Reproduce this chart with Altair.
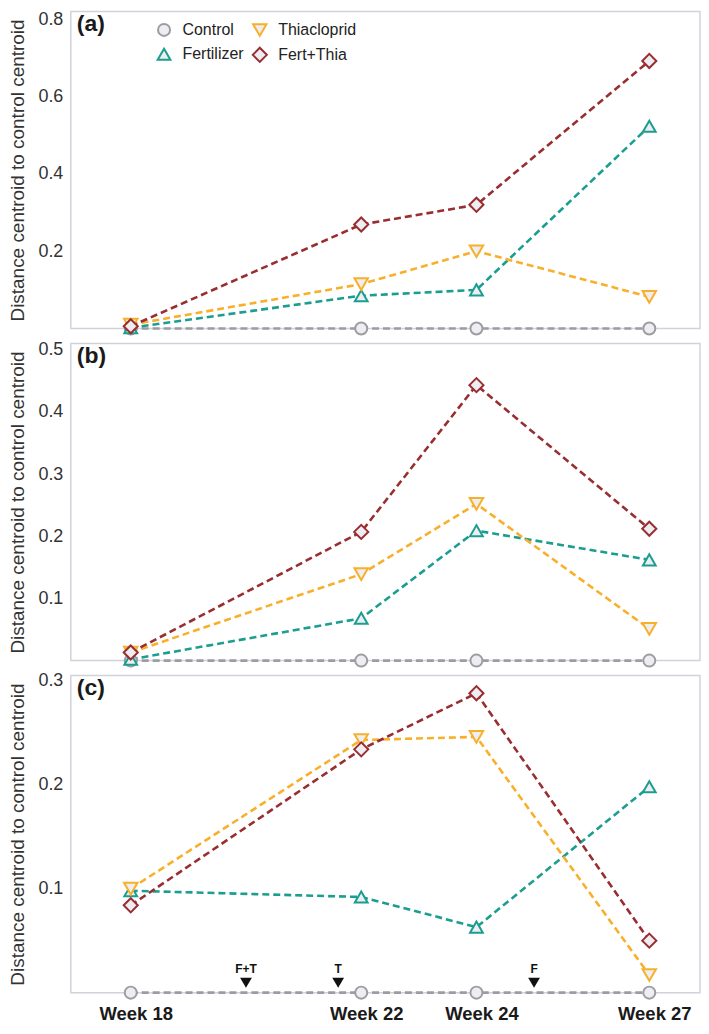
import altair as alt
import pandas as pd

# ---------------- data ----------------
weeks = [18, 22, 24, 27]
week_ticks = [18, 22, 24, 27]
groups = ["Control", "Fertilizer", "Thiacloprid", "Fert+Thia"]
legend_order = ["Control", "Fertilizer", "Thiacloprid", "Fert+Thia"]
colors = {"Control": "#9c9ca4", "Fertilizer": "#1b9e90",
          "Thiacloprid": "#f8b02b", "Fert+Thia": "#992e30"}
shapes = {"Control": "circle", "Fertilizer": "triangle-up",
          "Thiacloprid": "triangle-down", "Fert+Thia": "diamond"}
sizes = {"Control": 145, "Fertilizer": 200, "Thiacloprid": 215, "Fert+Thia": 240}

a_control = [0.0, 0.0, 0.0, 0.0]
a_fert = [0.002, 0.085, 0.100, 0.523]
a_thia = [0.010, 0.115, 0.200, 0.082]
a_ft = [0.006, 0.269, 0.320, 0.692]

b_control = [0.0, 0.0, 0.0, 0.0]
b_fert = [0.002, 0.068, 0.209, 0.162]
b_thia = [0.013, 0.139, 0.252, 0.051]
b_ft = [0.013, 0.207, 0.443, 0.212]

c_control = [0.0, 0.0, 0.0, 0.0]
c_fert = [0.098, 0.092, 0.063, 0.198]
c_thia = [0.100, 0.243, 0.246, 0.017]
c_ft = [0.084, 0.234, 0.288, 0.050]

ann_weeks = [20.0, 21.6, 25.0]
ann_labels = ["F+T", "T", "F"]
ann_y = [0.0095, 0.0095, 0.0095]

panel_letters = ["(a)", "(b)", "(c)"]
y_domains = [[0, 0.82], [0, 0.51], [0, 0.305]]
y_ticks = [[0.2, 0.4, 0.6, 0.8], [0.1, 0.2, 0.3, 0.4, 0.5], [0.1, 0.2, 0.3]]
y_title = "Distance centroid to control centroid"

FONT = "Liberation Sans"
W, H = 631, 318
x_domain = [16.96, 27.88]


def frame(series):
    rows = []
    for g in groups:
        for w, v in zip(weeks, series[g]):
            rows.append({"week": w, "value": v, "group": g,
                         "gorder": groups.index(g)})
    return pd.DataFrame(rows)


def panel(series, idx):
    df = frame(series)
    if idx == 2:
        xaxis = alt.Axis(values=week_ticks, ticks=False, domain=False,
                         grid=False, title=None,
                         labelExpr="'Week ' + datum.value",
                         labelFont=FONT, labelFontSize=18.5, labelFontWeight="bold",
                         labelColor="#1a1a1a", labelPadding=12, labelFlush=False,
                         labelOffset=5)
    else:
        xaxis = None
    x = alt.X("week:Q", scale=alt.Scale(domain=x_domain, nice=False, zero=False),
              axis=xaxis)
    y = alt.Y("value:Q",
              scale=alt.Scale(domain=y_domains[idx], nice=False, zero=False),
              axis=alt.Axis(values=y_ticks[idx], format=".1f", ticks=False,
                            domain=False, grid=False,
                            title=y_title, labelFont=FONT, titleFont=FONT,
                            labelFontSize=18, titleFontSize=19,
                            titleFontWeight="normal", labelColor="#333333",
                            titleColor="#333333", labelPadding=8, titlePadding=10))
    stroke_scale = alt.Scale(domain=legend_order,
                             range=[colors[g] for g in legend_order])
    shape_scale = alt.Scale(domain=legend_order,
                            range=[shapes[g] for g in legend_order])
    size_scale = alt.Scale(domain=legend_order,
                           range=[sizes[g] for g in legend_order])
    if idx == 0:
        leg = alt.Legend(title=None, orient="none", legendX=85, legendY=10,
                         columns=2, labelFont=FONT, labelFontSize=16,
                         labelColor="#222222",
                         symbolStrokeWidth=2, symbolFillColor="#ededf2",
                         symbolOpacity=1, labelOffset=10, columnPadding=4,
                         rowPadding=3, padding=0)
    else:
        leg = None

    layers = []
    for g in groups:
        layers.append(
            alt.Chart(df).transform_filter(alt.datum.group == g)
            .mark_line(strokeDash=[7, 4], strokeWidth=2.6, color=colors[g])
            .encode(x=x, y=y)
        )
    points = alt.Chart(df).mark_point(filled=True, fill="#ededf2", strokeWidth=2,
                                      opacity=1).encode(
        x=x, y=y,
        stroke=alt.Stroke("group:N", scale=stroke_scale, legend=leg),
        shape=alt.Shape("group:N", scale=shape_scale, legend=leg),
        size=alt.Size("group:N", scale=size_scale, legend=leg),
        order=alt.Order("gorder:Q"),
    )
    letter = alt.Chart(pd.DataFrame({"t": [panel_letters[idx]]})).mark_text(
        font=FONT, fontSize=23, fontWeight="bold", align="left", baseline="middle",
        color="#1a1a1a").encode(text="t:N", x=alt.value(6), y=alt.value(13))
    layers += [points, letter]
    if idx == 2:
        adf = pd.DataFrame({"week": ann_weeks, "value": ann_y, "lab": ann_labels})
        arrows = alt.Chart(adf).mark_point(shape="triangle-down", filled=True,
                                           color="#111111", size=140,
                                           opacity=1).encode(
            x=alt.X("week:Q"), y=alt.Y("value:Q"))
        labs = alt.Chart(adf).mark_text(font=FONT, fontSize=12, fontWeight="bold",
                                        dy=-14, color="#111111").encode(
            x=alt.X("week:Q"), y=alt.Y("value:Q"), text="lab:N")
        layers += [arrows, labs]
    return alt.layer(*layers).properties(width=W, height=H)


panels = [
    panel({"Control": a_control, "Fertilizer": a_fert, "Thiacloprid": a_thia,
           "Fert+Thia": a_ft}, 0),
    panel({"Control": b_control, "Fertilizer": b_fert, "Thiacloprid": b_thia,
           "Fert+Thia": b_ft}, 1),
    panel({"Control": c_control, "Fertilizer": c_fert, "Thiacloprid": c_thia,
           "Fert+Thia": c_ft}, 2),
]

chart = alt.vconcat(*panels, spacing=15, bounds="flush").resolve_scale(
    y="independent", stroke="independent", shape="independent",
    size="independent"
).resolve_legend(stroke="independent", shape="independent",
                 size="independent").configure_view(
    stroke="#d2d2da", strokeWidth=1.5
).properties(padding=0, background="white")

chart.save("out.html", embed_options={"renderer": "svg", "actions": False})
